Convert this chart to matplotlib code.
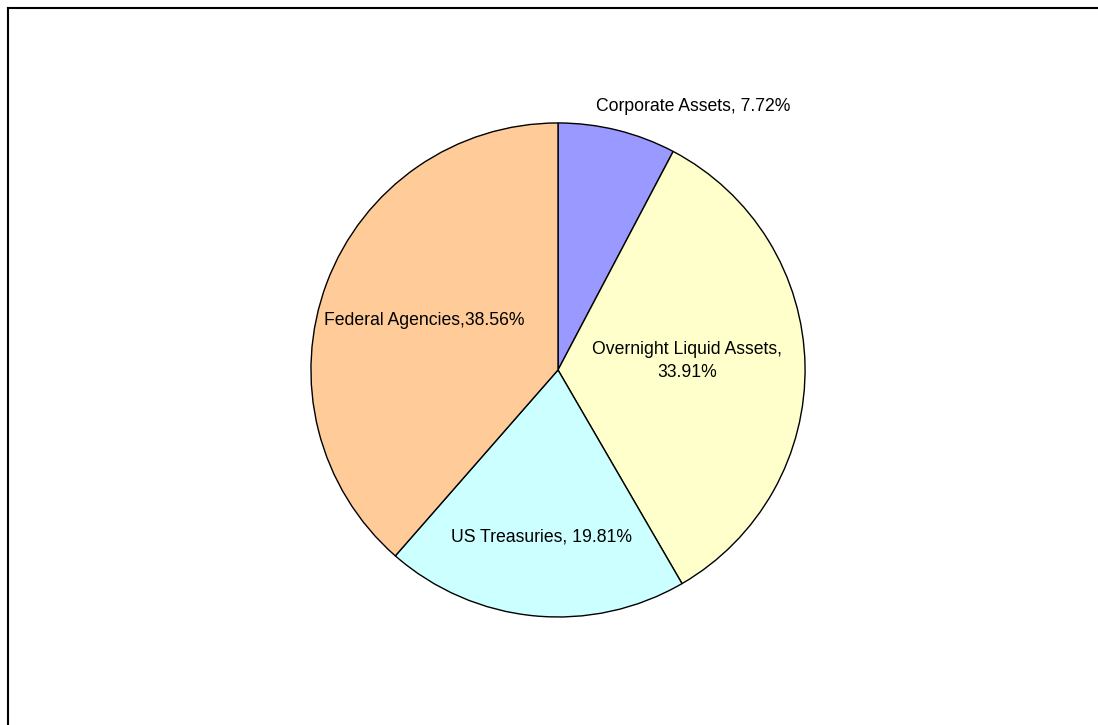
import matplotlib.pyplot as plt
from matplotlib.lines import Line2D

plt.rcParams['font.family'] = ['Liberation Sans', 'DejaVu Sans']

# Portfolio composition, clockwise from 12 o'clock
categories = ['Corporate Assets', 'Overnight Liquid Assets', 'US Treasuries', 'Federal Agencies']
shares = [7.72, 33.91, 19.81, 38.56]
colors = ['#9999FF', '#FFFFCC', '#CCFFFF', '#FFCC99']
label_texts = ['Corporate Assets, 7.72%', 'Overnight Liquid Assets,\n33.91%',
               'US Treasuries, 19.81%', 'Federal Agencies,38.56%']
label_pos = [(0.547, 1.065), (0.522, 0.036), (-0.065, -0.676), (-0.543, 0.202)]

fig = plt.figure(figsize=(10.98, 7.25), dpi=100)
ax = fig.add_axes([0.5082 - 0.225, 0.4897 - 0.3407, 0.45, 0.6814])

ax.pie(shares, colors=colors, startangle=90, counterclock=False, radius=1,
       wedgeprops=dict(edgecolor='black', linewidth=1.0))
ax.set_xlim(-1, 1)
ax.set_ylim(-1, 1)
ax.set_aspect('auto')
ax.axis('off')

for text, (x, y) in zip(label_texts, label_pos):
    ax.text(x, y, text, ha='center', va='center', fontsize=12.7,
            linespacing=1.42, clip_on=False)

# chart area border (top and left edges visible)
x0 = 7.5 / 1098
y0 = 1 - 7.5 / 725
fig.add_artist(Line2D([x0, 1.0], [y0, y0], color='black', linewidth=1.5,
                      transform=fig.transFigure))
fig.add_artist(Line2D([x0, x0], [0.0, y0], color='black', linewidth=1.5,
                      transform=fig.transFigure))

fig.savefig('out.png', dpi=100, facecolor='white')
